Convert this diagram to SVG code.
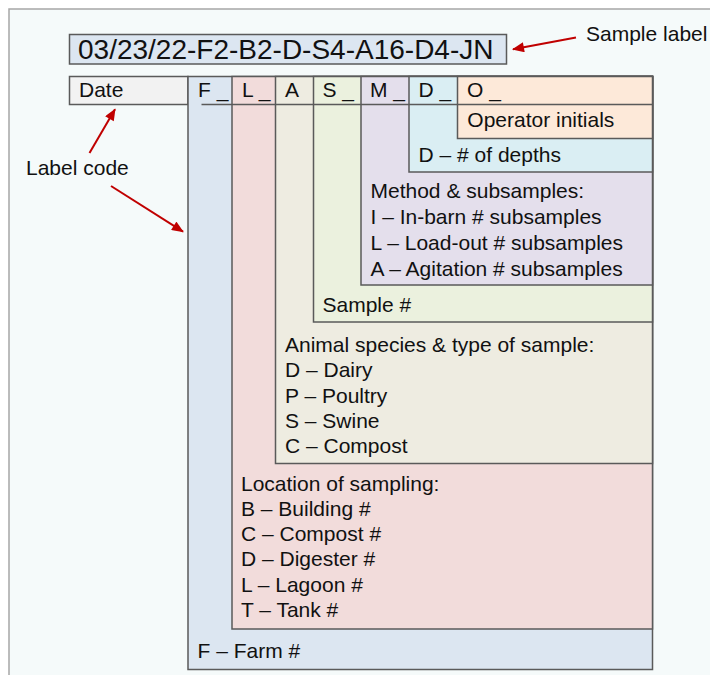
<svg xmlns="http://www.w3.org/2000/svg" width="710" height="675" viewBox="0 0 710 675">
<style>
.t{font-family:"Liberation Sans",Arial,sans-serif;font-size:21px;fill:#111}
.box{stroke:#5a5a5a;stroke-width:1.5}
.arrow{stroke:#C00000;stroke-width:2;fill:none}
</style>
<defs>
<marker id="ah" viewBox="0 0 12 10" refX="11" refY="5" markerWidth="13" markerHeight="10" markerUnits="userSpaceOnUse" orient="auto">
<path d="M0,0 L12,5 L0,10 z" fill="#C00000"/>
</marker>
</defs>
<rect x="0" y="0" width="710" height="675" fill="#ffffff"/>
<rect id="frame" x="9" y="9" width="730" height="700" fill="#F5FAFA" stroke="#A6A6A6" stroke-width="1.5"/>

<g id="sample-label">
<rect class="box" x="69.5" y="34.5" width="437" height="29.5" fill="#DCE6F1"/>
<text class="t" x="78" y="59" style="font-size:28px">03/23/22-F2-B2-D-S4-A16-D4-JN</text>
</g>
<text id="sample-label-caption" class="t" x="586" y="41">Sample label</text>

<g id="date">
<rect class="box" x="69.5" y="76.5" width="118.5" height="28" fill="#F2F2F2"/>
<text class="t" x="79" y="97">Date</text>
</g>
<text id="label-code" class="t" x="26" y="175">Label code</text>

<g id="farm">
<rect class="box" x="188" y="76.5" width="464.5" height="593" fill="#DCE6F1"/>
<text class="t" x="198" y="97">F _</text>
<text class="t" x="197.5" y="657.5">F – Farm #</text>
</g>
<g id="location">
<rect class="box" x="232" y="76.5" width="420.5" height="552.5" fill="#F2DCDB"/>
<text class="t" x="242" y="97">L _</text>
<text class="t" x="241"><tspan x="241" y="490.7">Location of sampling:</tspan><tspan x="241" y="515.9">B – Building #</tspan><tspan x="241" y="541.1">C – Compost #</tspan><tspan x="241" y="566.3">D – Digester #</tspan><tspan x="241" y="591.5">L – Lagoon #</tspan><tspan x="241" y="616.7">T – Tank #</tspan></text>
</g>
<g id="animal">
<rect class="box" x="275.5" y="76.5" width="377" height="387" fill="#EEECE1"/>
<text class="t" x="285" y="97">A</text>
<text class="t" x="285"><tspan x="285" y="351.7">Animal species &amp; type of sample:</tspan><tspan x="285" y="377.1">D – Dairy</tspan><tspan x="285" y="402.5">P – Poultry</tspan><tspan x="285" y="427.9">S – Swine</tspan><tspan x="285" y="453.3">C – Compost</tspan></text>
</g>
<g id="sample">
<rect class="box" x="313.5" y="76.5" width="339" height="245.5" fill="#EBF1DE"/>
<text class="t" x="322.5" y="97">S _</text>
<text class="t" x="322.5" y="311.7">Sample #</text>
</g>
<g id="method">
<rect class="box" x="361" y="76.5" width="291.5" height="208.5" fill="#E4DFEC"/>
<text class="t" x="370" y="97">M _</text>
<text class="t" x="370.5"><tspan x="370.5" y="198.2">Method &amp; subsamples:</tspan><tspan x="370.5" y="224">I – In-barn # subsamples</tspan><tspan x="370.5" y="249.8">L – Load-out # subsamples</tspan><tspan x="370.5" y="275.6">A – Agitation # subsamples</tspan></text>
</g>
<g id="depths">
<rect class="box" x="409" y="76.5" width="243.5" height="95.5" fill="#DAEEF3"/>
<text class="t" x="418.5" y="97">D _</text>
<text class="t" x="418.5" y="161.7">D – # of depths</text>
</g>
<g id="operator">
<rect class="box" x="457.5" y="76.5" width="195" height="62" fill="#FDE9D9"/>
<text class="t" x="467" y="97">O _</text>
<text class="t" x="467.3" y="127.3">Operator initials</text>
</g>
<line class="box" x1="201.5" y1="104.5" x2="652.5" y2="104.5"/>

<g id="connectors">
<line class="arrow" x1="576" y1="37.5" x2="513" y2="49.3" marker-end="url(#ah)"/>
<line class="arrow" x1="89.5" y1="153" x2="115" y2="109.3" marker-end="url(#ah)"/>
<line class="arrow" x1="111" y1="186" x2="183" y2="231.7" marker-end="url(#ah)"/>
</g>
</svg>
